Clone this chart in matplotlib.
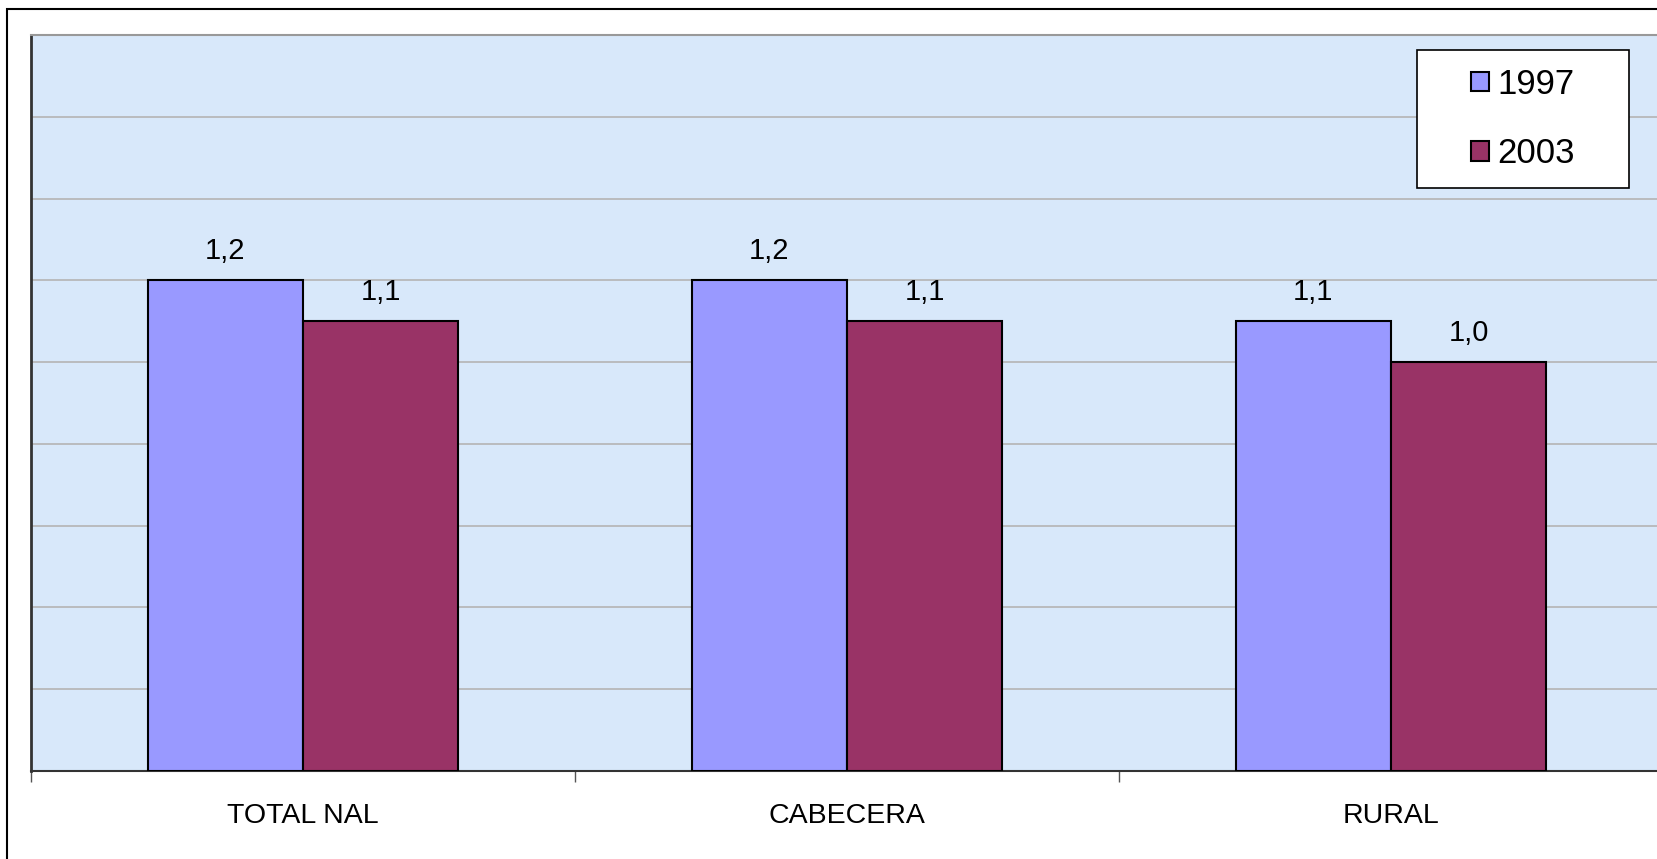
import numpy as np
import matplotlib.pyplot as plt
import matplotlib.patches as mpatches

# data
categories = ['TOTAL NAL', 'CABECERA', 'RURAL']
series_names = ['1997', '2003']
values_1997 = [1.2, 1.2, 1.1]
values_2003 = [1.1, 1.1, 1.0]

plt.rcParams['font.family'] = ['Liberation Sans', 'DejaVu Sans']

W, H = 1657, 859
fig = plt.figure(figsize=(W / 100, H / 100), dpi=100)
fig.patch.set_facecolor('white')

# plot area in pixels: left 31, top 35, bottom 771, category width 544
left_px, top_px, bottom_px, cat_px = 31, 35, 771, 544
ax = fig.add_axes([left_px / W, (H - bottom_px) / H,
                   3 * cat_px / W, (bottom_px - top_px) / H])
ax.set_facecolor('#d8e8fa')

x = np.arange(len(categories))
bw = 1 / 3.5
colors = ['#9999FF', '#993366']
for i, (vals, col, name) in enumerate(zip([values_1997, values_2003], colors, series_names)):
    pos = x - bw / 2 + i * bw
    bars = ax.bar(pos, vals, width=bw, color=col, edgecolor='black',
                  linewidth=1.5, label=name, zorder=3)
    for b, v in zip(bars, vals):
        ax.text(b.get_x() + b.get_width() / 2, v + 0.038, f'{v:.1f}'.replace('.', ','),
                ha='center', va='bottom', fontsize=21, zorder=4)

ax.set_xlim(-0.5, 2.5)
ax.set_ylim(0, 1.8)
ax.set_yticks(np.arange(0, 1.81, 0.2))
ax.yaxis.grid(True, color='#b4b4b4', linewidth=1.2, zorder=1)
ax.tick_params(axis='y', left=False, labelleft=False)

ax.set_xticks([-0.5, 0.5, 1.5, 2.5])
ax.set_xticklabels([])
ax.tick_params(axis='x', which='major', length=8, width=1, color='#555555', direction='out')
ax.set_xticks(x, minor=True)
ax.set_xticklabels(categories, minor=True, fontsize=20.5)
ax.tick_params(axis='x', which='minor', length=0, pad=23)

ax.spines['left'].set_color('#333333')
ax.spines['left'].set_linewidth(2)
ax.spines['bottom'].set_color('#333333')
ax.spines['bottom'].set_linewidth(1.5)
ax.spines['top'].set_color('#999999')
ax.spines['top'].set_linewidth(1.5)

# legend box
lx0, ly0, lx1, ly1 = 1417, 50, 1629, 188
box = mpatches.Rectangle((lx0 / W, 1 - ly1 / H), (lx1 - lx0) / W, (ly1 - ly0) / H,
                         transform=fig.transFigure, facecolor='white',
                         edgecolor='black', linewidth=1.2, zorder=10)
fig.patches.append(box)
leg = fig.legend(loc='center', bbox_to_anchor=((lx0 + lx1) / 2 / W, 1 - (ly0 + ly1) / 2 / H),
                 frameon=False, fontsize=25, handlelength=0.5, handleheight=0.5,
                 handletextpad=0.25, labelspacing=1.05)
leg.set_zorder(11)

# outer chart frame
frame = mpatches.Rectangle((7 / W, -0.1), 1.2, 1 - 9 / H + 0.1,
                           transform=fig.transFigure, facecolor='none',
                           edgecolor='black', linewidth=1.5, zorder=12)
fig.patches.append(frame)

fig.savefig('out.png', dpi=100)
